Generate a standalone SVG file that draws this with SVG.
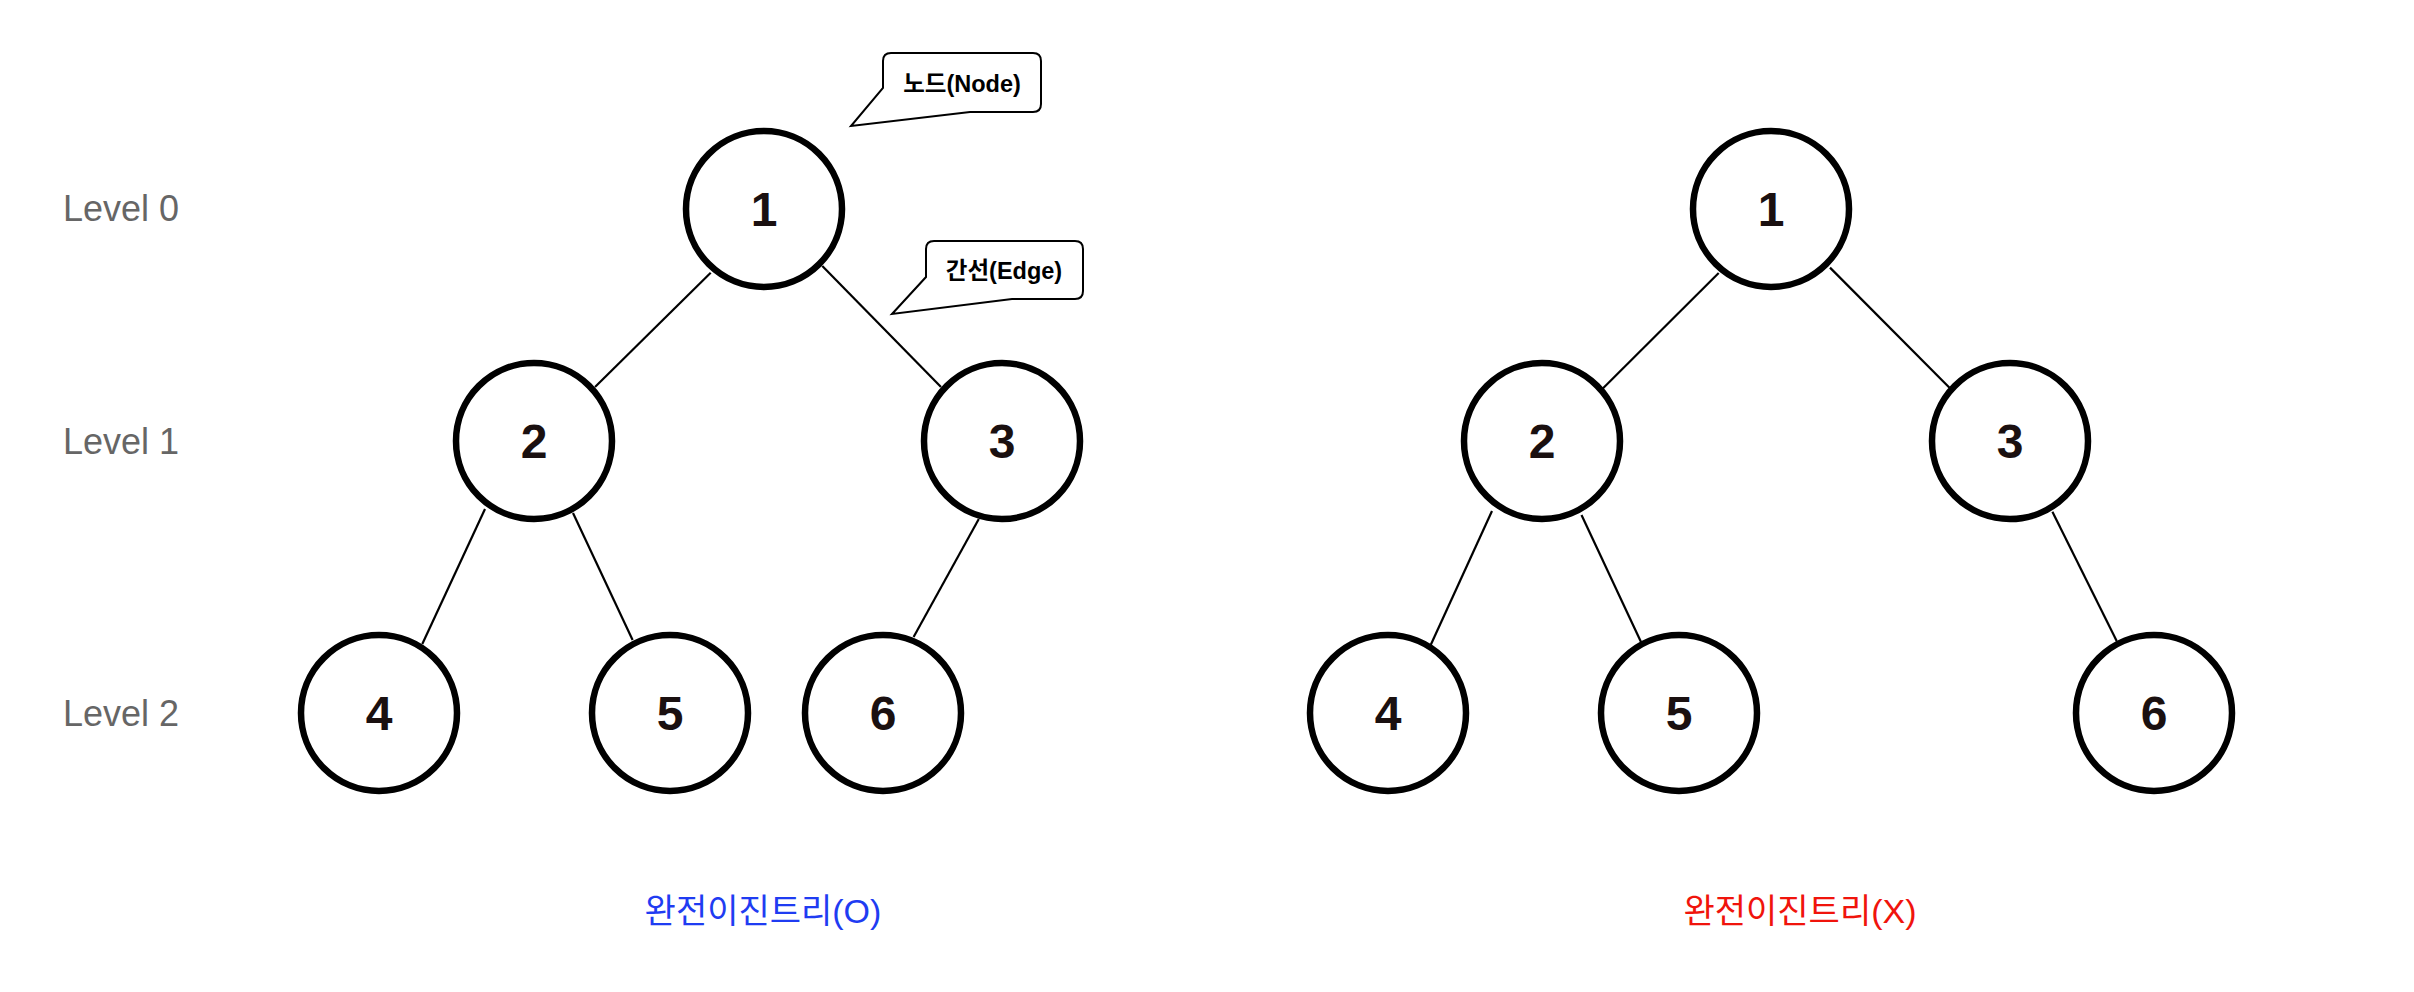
<svg xmlns="http://www.w3.org/2000/svg" width="2414" height="992" viewBox="0 0 2414 992">
<style>
.node circle{fill:#fff;stroke:#000;stroke-width:6.5}
.node text{font-family:"Liberation Sans",Arial,sans-serif;font-weight:bold;font-size:48px;fill:#1a1010;text-anchor:middle}
.edge{stroke:#000;stroke-width:2.2;fill:none}
.level{font-family:"Liberation Sans",Arial,sans-serif;font-size:36px;fill:#666}
.call path{fill:#fff;stroke:#000;stroke-width:2}
.call text{font-family:"Liberation Sans",Arial,"Noto Sans CJK KR",sans-serif;font-weight:bold;font-size:23.5px;fill:#000;text-anchor:middle}
.cap{font-family:"Liberation Sans",Arial,"Noto Sans CJK KR",sans-serif;font-size:34px;text-anchor:middle}
</style>
<rect width="2414" height="992" fill="#fff"/>
<g id="connectors">
<line class="edge" x1="710.7" y1="272.7" x2="595" y2="387"/>
<line class="edge" x1="822.3" y1="266" x2="941" y2="387"/>
<line class="edge" x1="485" y1="509" x2="422.3" y2="644"/>
<line class="edge" x1="573" y1="513" x2="632.6" y2="640"/>
<line class="edge" x1="978.8" y1="519" x2="913.6" y2="637"/>
<line class="edge" x1="1718.7" y1="273" x2="1602.3" y2="389"/>
<line class="edge" x1="1830" y1="267.6" x2="1949.5" y2="387.7"/>
<line class="edge" x1="1492" y1="511" x2="1430.8" y2="644.8"/>
<line class="edge" x1="1581.5" y1="515" x2="1641" y2="642"/>
<line class="edge" x1="2052.4" y1="511.8" x2="2116.7" y2="641"/>
</g>
<g id="level0"><text class="level" x="63" y="221">Level 0</text></g>
<g id="level1"><text class="level" x="63" y="454">Level 1</text></g>
<g id="level2"><text class="level" x="63" y="726">Level 2</text></g>
<g id="L1" class="node"><circle cx="764" cy="209" r="78"/><text x="764" y="226">1</text></g>
<g id="L2" class="node"><circle cx="534" cy="441" r="78"/><text x="534" y="458">2</text></g>
<g id="L3" class="node"><circle cx="1002" cy="441" r="78"/><text x="1002" y="458">3</text></g>
<g id="L4" class="node"><circle cx="379" cy="713" r="78"/><text x="379" y="730">4</text></g>
<g id="L5" class="node"><circle cx="670" cy="713" r="78"/><text x="670" y="730">5</text></g>
<g id="L6" class="node"><circle cx="883" cy="713" r="78"/><text x="883" y="730">6</text></g>
<g id="R1" class="node"><circle cx="1771" cy="209" r="78"/><text x="1771" y="226">1</text></g>
<g id="R2" class="node"><circle cx="1542" cy="441" r="78"/><text x="1542" y="458">2</text></g>
<g id="R3" class="node"><circle cx="2010" cy="441" r="78"/><text x="2010" y="458">3</text></g>
<g id="R4" class="node"><circle cx="1388" cy="713" r="78"/><text x="1388" y="730">4</text></g>
<g id="R5" class="node"><circle cx="1679" cy="713" r="78"/><text x="1679" y="730">5</text></g>
<g id="R6" class="node"><circle cx="2154" cy="713" r="78"/><text x="2154" y="730">6</text></g>
<g id="callout-node" class="call">
<path d="M891,53 H1033 Q1041,53 1041,61 V104 Q1041,112 1033,112 H970 L851,126 L883,88 V61 Q883,53 891,53 Z"/>
<text x="962" y="92">노드(Node)</text>
</g>
<g id="callout-edge" class="call">
<path d="M934,241 H1075 Q1083,241 1083,249 V291 Q1083,299 1075,299 H1012 L892,314 L926,277 V249 Q926,241 934,241 Z"/>
<text x="1004" y="279">간선(Edge)</text>
</g>
<g id="caption-o"><text class="cap" x="763" y="923" fill="#1f3cf2">완전이진트리(O)</text></g>
<g id="caption-x"><text class="cap" x="1800" y="923" fill="#f0140c">완전이진트리(X)</text></g>
</svg>
